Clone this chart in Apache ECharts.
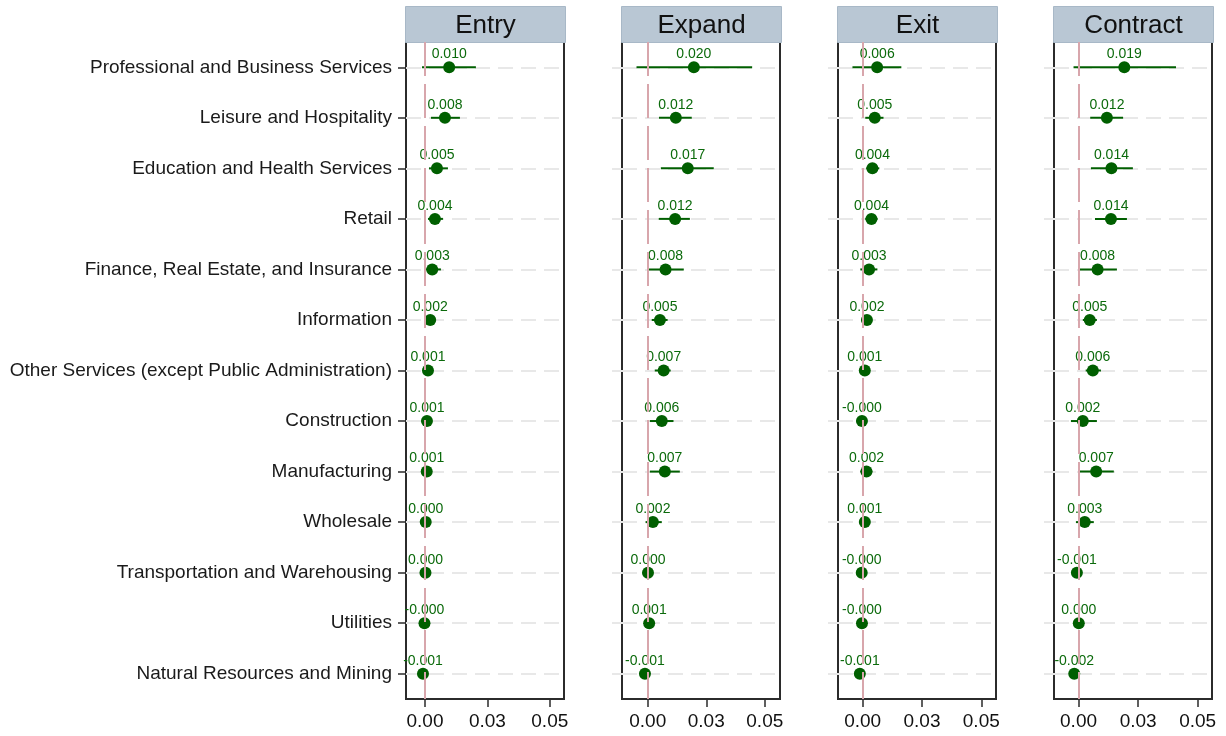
<!DOCTYPE html>
<html>
<head>
<meta charset="utf-8">
<script src="https://cdn.jsdelivr.net/npm/echarts@6/dist/echarts.min.js"></script>
<style>
  html, body { margin: 0; padding: 0; background: #fff; }
  #chart { width: 1226px; height: 736px; }
</style>
</head>
<body>
<div id="chart"></div>
<script>
// Industry rows, top to bottom
const categories = [
  'Professional and Business Services',
  'Leisure and Hospitality',
  'Education and Health Services',
  'Retail',
  'Finance, Real Estate, and Insurance',
  'Information',
  'Other Services (except Public Administration)',
  'Construction',
  'Manufacturing',
  'Wholesale',
  'Transportation and Warehousing',
  'Utilities',
  'Natural Resources and Mining'
];

const panelTitles = ['Entry', 'Expand', 'Exit', 'Contract'];

// Point estimates and confidence bounds per panel
const entryEst = [0.0097, 0.0080, 0.0048, 0.0040, 0.0029, 0.0021, 0.0012, 0.0008, 0.0007, 0.0003, 0.0002, -0.0002, -0.0008];
const entryLo  = [-0.0012, 0.0024, 0.0016, 0.0012, -0.0004, 0.0009, 0.0004, 0.0000, -0.0004, -0.0004, -0.0008, -0.0010, -0.0016];
const entryHi  = [0.0204, 0.0140, 0.0092, 0.0072, 0.0064, 0.0033, 0.0022, 0.0016, 0.0018, 0.0011, 0.0010, 0.0006, 0.0002];

const expandEst = [0.0197, 0.0120, 0.0171, 0.0117, 0.0076, 0.0052, 0.0068, 0.0060, 0.0073, 0.0022, 0.0001, 0.0006, -0.0012];
const expandLo  = [-0.0048, 0.0048, 0.0056, 0.0047, 0.0001, 0.0017, 0.0030, 0.0009, 0.0009, -0.0009, -0.0009, -0.0004, -0.0022];
const expandHi  = [0.0446, 0.0188, 0.0282, 0.0180, 0.0154, 0.0085, 0.0098, 0.0110, 0.0137, 0.0060, 0.0010, 0.0014, -0.0002];

const exitEst = [0.0061, 0.0051, 0.0041, 0.0037, 0.0027, 0.0018, 0.0009, -0.0003, 0.0016, 0.0009, -0.0004, -0.0003, -0.0012];
const exitLo  = [-0.0043, 0.0011, 0.0015, 0.0011, -0.0010, 0.0007, -0.0001, -0.0014, -0.0010, -0.0001, -0.0018, -0.0012, -0.0022];
const exitHi  = [0.0163, 0.0088, 0.0070, 0.0063, 0.0062, 0.0029, 0.0020, 0.0008, 0.0041, 0.0020, 0.0008, 0.0006, -0.0002];

const contractEst = [0.0192, 0.0119, 0.0138, 0.0136, 0.0080, 0.0047, 0.0060, 0.0018, 0.0074, 0.0026, -0.0007, 0.0001, -0.0018];
const contractLo  = [-0.0021, 0.0049, 0.0052, 0.0069, 0.0001, 0.0018, 0.0030, -0.0032, 0.0001, -0.0011, -0.0024, -0.0007, -0.0028];
const contractHi  = [0.0409, 0.0187, 0.0228, 0.0203, 0.0161, 0.0077, 0.0094, 0.0077, 0.0148, 0.0064, 0.0010, 0.0008, -0.0008];

// x-axis ticks and their printed labels
const tickValues = [0, 0.025, 0.05];
const tickLabels = ['0.00', '0.03', '0.05'];

// per-panel x ranges
const xMins = [-0.0076, -0.0110, -0.0104, -0.0103];
const xMaxs = [0.0557, 0.0565, 0.0562, 0.0560];

const panelData = [
  [entryEst, entryLo, entryHi],
  [expandEst, expandLo, expandHi],
  [exitEst, exitLo, exitHi],
  [contractEst, contractLo, contractHi]
];

const FONT = '"Liberation Sans", Arial, Helvetica, sans-serif';
const GREEN = '#005f00';
const LABEL_GREEN = '#0b6a0b';
const panelLefts = [406, 622, 838, 1054];
const panelWidth = 158;
const gridTop = 42;
const gridHeight = 657;

const grids = [], xAxes = [], yAxes = [], series = [], graphics = [];

panelTitles.forEach(function (title, p) {
  const est = panelData[p][0], lo = panelData[p][1], hi = panelData[p][2];

  grids.push({
    left: panelLefts[p], top: gridTop, width: panelWidth, height: gridHeight,
    show: true, borderColor: '#2b2b2b', borderWidth: 2, backgroundColor: '#fff'
  });

  xAxes.push({
    type: 'value', gridIndex: p, min: xMins[p], max: xMaxs[p],
    axisLine: { show: false, onZero: false },
    splitLine: { show: false },
    axisTick: { show: true, customValues: tickValues, length: 8, inside: false,
      lineStyle: { color: '#2b2b2b', width: 1.5 } },
    axisLabel: { show: true, customValues: tickValues, margin: 13,
      fontSize: 19, fontFamily: FONT, color: '#111',
      formatter: function (v) {
        const i = tickValues.findIndex(function (t) { return Math.abs(t - v) < 1e-9; });
        return i >= 0 ? tickLabels[i] : '';
      } }
  });

  yAxes.push({
    type: 'category', gridIndex: p, data: categories, inverse: true,
    position: 'left',
    axisLine: { show: false, onZero: false },
    axisTick: { show: true, alignWithLabel: true, length: p === 0 ? 8 : 10,
      lineStyle: { color: p === 0 ? '#2b2b2b' : '#e8e8e8', width: p === 0 ? 1.5 : 2 } },
    axisLabel: { show: p === 0, fontSize: 19, fontFamily: FONT, color: '#1a1a1a', margin: 14 },
    splitLine: { show: true, alignWithLabel: true,
      lineStyle: { color: '#e8e8e8', width: 2, type: [15, 8] } }
  });

  // zero reference line
  series.push({
    type: 'line', xAxisIndex: p, yAxisIndex: p, data: [], z: 1, silent: true,
    markLine: {
      silent: true, symbol: 'none', animation: false,
      label: { show: false },
      lineStyle: { color: '#d8a6ac', width: 2, type: [34, 8] },
      data: [{ xAxis: 0 }]
    }
  });

  // confidence intervals
  series.push({
    type: 'custom', xAxisIndex: p, yAxisIndex: p, z: 3, silent: true,
    data: categories.map(function (c, i) { return [i, lo[i], hi[i]]; }),
    encode: { x: [1, 2], y: 0 },
    renderItem: function (params, api) {
      const a = api.coord([api.value(1), api.value(0)]);
      const b = api.coord([api.value(2), api.value(0)]);
      return { type: 'line', shape: { x1: a[0], y1: a[1], x2: b[0], y2: b[1] },
        style: { stroke: GREEN, lineWidth: 2 } };
    }
  });

  // point estimates with value labels
  series.push({
    type: 'scatter', xAxisIndex: p, yAxisIndex: p, z: 4, silent: true,
    symbol: 'circle', symbolSize: 12,
    itemStyle: { color: GREEN, opacity: 1 },
    data: categories.map(function (c, i) { return [est[i], i]; }),
    label: {
      show: true, position: 'top', distance: 0,
      fontSize: 14, fontFamily: FONT, color: LABEL_GREEN,
      formatter: function (d) { return d.value[0].toFixed(3); }
    }
  });

  // panel header strip
  graphics.push({
    type: 'group', left: panelLefts[p] - 1, top: 6,
    children: [
      { type: 'rect', shape: { x: 0, y: 0, width: panelWidth + 2, height: 36 },
        style: { fill: '#b9c7d4', stroke: '#a8b8c7', lineWidth: 1 } },
      { type: 'text', x: (panelWidth + 2) / 2, y: 19,
        style: { text: title, font: '26px ' + FONT, fill: '#111',
          align: 'center', verticalAlign: 'middle' } }
    ]
  });
});

const chart = echarts.init(document.getElementById('chart'), null, { renderer: 'canvas' });
chart.setOption({
  animation: false,
  backgroundColor: '#fff',
  grid: grids,
  xAxis: xAxes,
  yAxis: yAxes,
  series: series,
  graphic: graphics
});
</script>
</body>
</html>
